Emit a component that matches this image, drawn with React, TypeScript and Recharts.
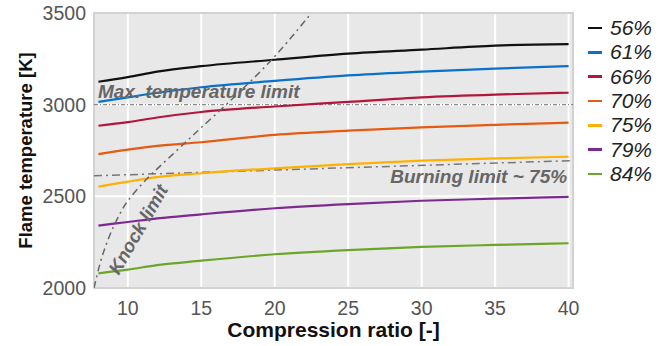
import {
  LineChart,
  Line,
  XAxis,
  YAxis,
  CartesianGrid,
  ReferenceLine,
  ReferenceArea,
  ReferenceDot,
} from "recharts";

// compression ratio samples shared by all air ratio curves
const compressionRatio = [8, 10, 12, 15, 20, 25, 30, 35, 40];

const temp56 = [3125, 3150, 3180, 3210, 3245, 3278, 3300, 3322, 3330];
const temp61 = [3015, 3040, 3065, 3095, 3130, 3160, 3180, 3197, 3210];
const temp66 = [2885, 2905, 2930, 2960, 2990, 3015, 3040, 3055, 3065];
const temp70 = [2730, 2755, 2775, 2795, 2835, 2858, 2876, 2890, 2902];
const temp75 = [2553, 2580, 2605, 2626, 2653, 2676, 2695, 2707, 2716];
const temp79 = [2340, 2360, 2380, 2402, 2435, 2458, 2476, 2487, 2497];
const temp84 = [2080, 2100, 2125, 2149, 2184, 2207, 2224, 2235, 2244];

const seriesNames = ["56%", "61%", "66%", "70%", "75%", "79%", "84%"];
const seriesValues = [temp56, temp61, temp66, temp70, temp75, temp79, temp84];
const seriesColors = ["#111111", "#0a70c8", "#b3163a", "#e65a12", "#ffb000", "#7d2a90", "#6ba62a"];

// knock limit curve
const knockRatio = [7.7, 8.1, 8.5, 9.0, 9.5, 10.0, 11.0, 12.0, 13.0, 14.0, 15.0, 16.5, 18.0, 19.5, 21.0, 22.5];
const knockTemp = [2000, 2130, 2230, 2330, 2410, 2475, 2570, 2650, 2725, 2800, 2875, 2985, 3100, 3220, 3355, 3500];

// limits
const maxTempLimit = 3000;
const burningLimit = [
  { x: 7.7, y: 2612 },
  { x: 40.3, y: 2695 },
];

const xTicks = [10, 15, 20, 25, 30, 35, 40];
const yTicks = [2000, 2500, 3000, 3500];

const rows = compressionRatio.map((cr, i) => {
  const row: Record<string, number> = { cr };
  seriesNames.forEach((name, s) => {
    row[name] = seriesValues[s][i];
  });
  return row;
});

const knockData = knockRatio.map((cr, i) => ({ cr, knock: knockTemp[i] }));

const FONT = "'Liberation Sans', Arial, sans-serif";
const noteStyle = {
  fontFamily: FONT,
  fontSize: 19,
  fontWeight: 700,
  fontStyle: "italic",
  fill: "#666",
} as const;

export default function App() {
  return (
    <div style={{ position: "absolute", left: 0, top: 0, width: 672, height: 346, background: "#fff" }}>
      <LineChart
        width={672}
        height={346}
        data={rows}
        margin={{ top: 13, right: 99, bottom: 0, left: 0 }}
      >
        <CartesianGrid fill="#e8e8e8" stroke="#ffffff" strokeWidth={2} />
        <ReferenceArea
          x1={7.7}
          x2={40.3}
          y1={2000}
          y2={3500}
          fill="none"
          stroke="#d2d2d2"
          strokeWidth={2}
        />
        <XAxis
          dataKey="cr"
          type="number"
          domain={[7.7, 40.3]}
          ticks={xTicks}
          allowDataOverflow
          height={58}
          tickLine={false}
          axisLine={false}
          tickSize={0}
          tickMargin={13}
          tick={{ fill: "#555", fontSize: 19.5, fontFamily: FONT }}
          label={(props: any) => {
            const vb = props.viewBox;
            return (
              <text
                x={vb.x + vb.width / 2}
                y={337}
                textAnchor="middle"
                style={{ fontFamily: FONT, fontSize: 21, fontWeight: 700, fill: "#111" }}
              >
                Compression ratio [-]
              </text>
            );
          }}
        />
        <YAxis
          type="number"
          domain={[2000, 3500]}
          ticks={yTicks}
          allowDataOverflow
          width={94}
          tickLine={false}
          axisLine={false}
          tickSize={0}
          tickMargin={8}
          tick={{ fill: "#555", fontSize: 19.5, fontFamily: FONT }}
          label={(props: any) => {
            const vb = props.viewBox;
            const cy = vb.y + vb.height / 2;
            return (
              <text
                x={25}
                y={cy}
                textAnchor="middle"
                dominantBaseline="central"
                transform={`rotate(-90, 25, ${cy})`}
                style={{ fontFamily: FONT, fontSize: 18.5, fontWeight: 700, fill: "#111" }}
              >
                Flame temperature [K]
              </text>
            );
          }}
        />
        <ReferenceLine
          y={maxTempLimit}
          stroke="#8a8a8a"
          strokeWidth={1.2}
          strokeDasharray="4 2 1 2"
        />
        <ReferenceLine
          segment={burningLimit}
          stroke="#777"
          strokeWidth={1.5}
          strokeDasharray="8 4 2 4"
        />
        {seriesNames.map((name, s) => (
          <Line
            key={name}
            dataKey={name}
            type="monotone"
            stroke={seriesColors[s]}
            strokeWidth={2.2}
            dot={false}
            isAnimationActive={false}
          />
        ))}
        <Line
          data={knockData}
          dataKey="knock"
          type="natural"
          stroke="#666"
          strokeWidth={1.5}
          strokeDasharray="7 4 2 4"
          dot={false}
          isAnimationActive={false}
        />
        <ReferenceDot
          x={7.97}
          y={maxTempLimit}
          r={0}
          fill="none"
          stroke="none"
          label={(props: any) => (
            <text x={props.viewBox.x} y={props.viewBox.y - 7} style={noteStyle}>
              Max. temperature limit
            </text>
          )}
        />
        <ReferenceDot
          x={39.9}
          y={2573}
          r={0}
          fill="none"
          stroke="none"
          label={(props: any) => (
            <text x={props.viewBox.x} y={props.viewBox.y} textAnchor="end" style={noteStyle}>
              Burning limit ~ 75%
            </text>
          )}
        />
        <ReferenceDot
          x={10.7}
          y={2320}
          r={0}
          fill="none"
          stroke="none"
          label={(props: any) => {
            const { x, y } = props.viewBox;
            return (
              <text
                x={x}
                y={y}
                textAnchor="middle"
                dominantBaseline="central"
                transform={`rotate(-60, ${x}, ${y})`}
                style={{ ...noteStyle, fontSize: 18.5 }}
              >
                Knock limit
              </text>
            );
          }}
        />
      </LineChart>
      <div style={{ position: "absolute", left: 588, top: 16 }}>
        {seriesNames.map((name, s) => (
          <div key={name} style={{ display: "flex", alignItems: "center", height: 24.3 }}>
            <span
              style={{
                display: "inline-block",
                width: 14,
                height: 2.5,
                background: seriesColors[s],
                marginRight: 8,
              }}
            />
            <span
              style={{
                fontFamily: FONT,
                fontSize: 21,
                fontStyle: "italic",
                color: "#222",
                lineHeight: "24px",
              }}
            >
              {name}
            </span>
          </div>
        ))}
      </div>
    </div>
  );
}
